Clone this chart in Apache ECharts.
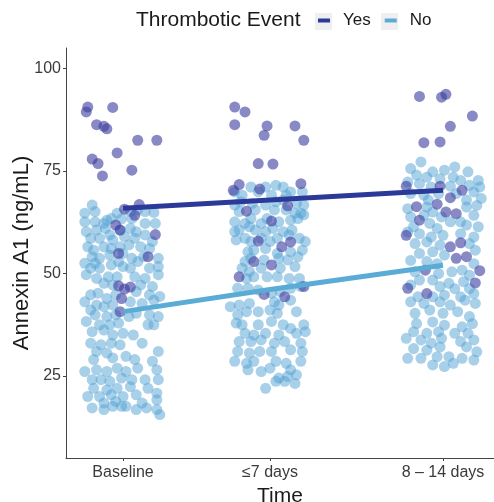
<!DOCTYPE html>
<html>
<head>
<meta charset="utf-8">
<script src="https://cdn.jsdelivr.net/npm/echarts@6/dist/echarts.min.js"></script>
<style>
  html, body { margin: 0; padding: 0; background: #fff; }
  #chart { width: 494px; height: 502px; }
</style>
</head>
<body>
<div id="chart"></div>
<script>
// Time points and where they sit on the x scale
const timeLabels = ['Baseline', '\u22647 days', '8 \u2013 14 days'];
const timePositions = [0, 1, 2.177];

// Group means (fitted trend) for each thrombotic-event group
const meanYes = [65.9, 67.9, 70.3];
const meanNo = [40.7, 46.1, 52.0];

// Individual measurements: [jitter offset, Annexin A1 ng/mL]
const yesBaseline = [
  [-0.24, 90.6], [-0.25, 89.4], [-0.07, 90.5], [-0.18, 86.3], [-0.13, 85.9], [-0.11, 85.3],
  [0.10, 82.5], [0.23, 82.5], [-0.04, 79.4], [-0.21, 77.9], [-0.17, 76.8], [0.06, 75.2],
  [-0.14, 73.8], [0.11, 66.8], [0.01, 65.7], [0.08, 64.2], [-0.05, 61.8], [-0.02, 60.6],
  [0.22, 59.5], [-0.03, 54.9], [0.17, 54.1], [-0.03, 47.0], [0.01, 46.2], [0.05, 46.7],
  [-0.01, 43.9], [-0.02, 40.7]
];
const yesDay7 = [
  [-0.24, 90.6], [-0.17, 89.4], [-0.24, 86.3], [-0.02, 86.0], [0.17, 86.0], [-0.04, 83.7],
  [0.23, 82.5], [-0.08, 76.8], [0.02, 76.7], [-0.21, 71.7], [-0.25, 70.3], [-0.07, 70.6],
  [0.21, 71.9], [-0.16, 65.2], [0.12, 66.5], [0.01, 62.8], [-0.08, 57.9], [0.08, 56.5],
  [0.14, 57.7], [-0.11, 52.9], [0.01, 52.1], [-0.21, 49.2], [-0.04, 44.9], [0.10, 44.3],
  [0.23, 46.8]
];
const yesDay14 = [
  [-0.16, 93.2], [-0.01, 93.0], [0.02, 93.7], [0.20, 88.4], [0.05, 85.9], [-0.13, 81.9],
  [-0.02, 82.1], [-0.25, 71.3], [-0.02, 71.3], [0.13, 70.3], [0.05, 68.5], [-0.04, 66.9],
  [-0.18, 66.3], [0.02, 65.0], [0.09, 64.6], [-0.16, 63.0], [-0.25, 59.3], [0.12, 57.5],
  [0.05, 56.5], [0.09, 53.7], [0.16, 54.1], [-0.12, 50.8], [0.25, 50.7], [0.22, 47.7],
  [-0.24, 46.4], [-0.11, 45.1]
];

const noBaseline = [
  [-0.21, 66.7], [-0.26, 64.7], [-0.19, 65.1], [-0.04, 64.7], [0.05, 65.1], [0.10, 65.5],
  [0.15, 65.1], [0.21, 64.9], [-0.11, 63.0], [-0.26, 62.6], [-0.19, 62.6], [-0.13, 62.2],
  [-0.08, 63.4], [-0.01, 63.3], [0.06, 63.4], [0.15, 62.2], [0.22, 62.2], [-0.25, 60.2],
  [-0.18, 60.6], [-0.12, 61.0], [-0.09, 59.4], [-0.02, 60.6], [0.05, 61.0], [0.09, 60.2],
  [0.15, 59.4], [-0.22, 58.6], [-0.16, 58.6], [-0.07, 58.2], [0.01, 59.0], [0.08, 58.6],
  [0.20, 57.8], [-0.24, 56.5], [-0.20, 55.7], [-0.13, 56.5], [-0.08, 56.1], [-0.02, 56.5],
  [0.04, 57.0], [0.12, 56.5], [0.18, 56.1], [-0.21, 54.1], [-0.16, 53.7], [-0.09, 54.5],
  [0.00, 54.9], [0.06, 53.7], [0.14, 54.1], [0.24, 53.7], [-0.26, 52.5], [-0.19, 52.5],
  [-0.03, 52.9], [0.10, 52.9], [-0.22, 51.3], [-0.16, 51.3], [-0.08, 52.1], [0.00, 51.7],
  [0.05, 51.3], [0.18, 51.3], [0.24, 51.7], [-0.25, 49.7], [-0.18, 48.8], [-0.10, 49.2],
  [-0.04, 49.2], [0.08, 49.2], [0.15, 48.8], [0.24, 49.7], [-0.13, 47.6], [-0.07, 47.2],
  [0.12, 47.2], [0.20, 46.8], [-0.22, 44.8], [-0.17, 45.2], [-0.11, 43.9], [-0.05, 44.8],
  [0.09, 45.6], [0.18, 44.8], [0.25, 44.4], [-0.26, 43.1], [-0.18, 42.3], [-0.13, 41.9],
  [-0.07, 42.3], [0.05, 43.1], [0.13, 42.7], [0.21, 43.5], [-0.22, 41.1], [-0.19, 39.9],
  [-0.11, 39.5], [-0.05, 39.9], [0.04, 39.5], [0.09, 40.3], [0.18, 39.9], [0.24, 39.5],
  [-0.25, 38.3], [-0.16, 37.5], [-0.09, 37.5], [-0.03, 37.9], [0.17, 37.5], [0.21, 37.5],
  [-0.21, 35.8], [-0.13, 36.2], [-0.07, 35.0], [0.00, 35.4], [0.07, 35.0], [-0.22, 33.0],
  [-0.15, 32.6], [-0.08, 33.0], [-0.02, 32.6], [0.13, 33.0], [0.24, 31.0], [-0.18, 31.0],
  [-0.11, 30.6], [0.02, 29.8], [-0.20, 29.0], [-0.07, 29.4], [0.08, 29.0], [0.20, 28.6],
  [-0.26, 26.1], [-0.18, 26.5], [-0.11, 26.1], [-0.04, 26.9], [0.02, 26.1], [0.10, 26.9],
  [0.23, 26.5], [-0.21, 24.1], [-0.15, 24.1], [-0.09, 23.7], [-0.01, 24.5], [0.06, 24.1],
  [0.15, 24.1], [0.24, 24.1], [-0.20, 22.0], [-0.11, 21.6], [-0.04, 22.0], [0.05, 22.4],
  [0.17, 22.0], [-0.24, 20.0], [-0.16, 20.0], [-0.08, 20.4], [0.00, 20.0], [0.09, 20.4],
  [0.23, 20.8], [-0.13, 18.4], [-0.05, 18.8], [0.02, 17.6], [0.13, 18.4], [0.23, 19.2],
  [-0.21, 17.2], [-0.13, 16.8], [-0.07, 17.6], [-0.01, 17.6], [0.09, 16.8], [0.16, 17.2],
  [0.23, 16.8], [0.25, 15.6]
];
const noDay7 = [
  [-0.24, 69.9], [-0.19, 69.1], [-0.13, 71.1], [-0.08, 69.9], [-0.03, 71.1], [0.04, 71.5],
  [0.09, 71.1], [0.14, 69.9], [0.22, 69.9], [0.01, 69.1], [0.11, 69.1], [-0.24, 66.7],
  [-0.20, 67.5], [-0.12, 67.1], [-0.03, 66.7], [0.04, 67.5], [0.09, 67.9], [0.18, 67.1],
  [0.23, 66.7], [-0.21, 65.1], [-0.10, 65.5], [0.03, 65.5], [0.11, 65.5], [0.17, 64.7],
  [0.21, 64.7], [-0.24, 62.6], [-0.17, 62.2], [-0.13, 63.4], [-0.06, 62.2], [-0.02, 63.4],
  [0.06, 62.6], [0.14, 63.0], [0.19, 63.4], [0.23, 64.3], [-0.24, 60.2], [-0.21, 60.6],
  [-0.14, 61.4], [-0.10, 60.6], [-0.03, 60.2], [0.02, 61.0], [0.09, 60.2], [0.15, 60.6],
  [-0.23, 58.2], [-0.17, 58.6], [-0.13, 57.8], [-0.06, 58.6], [0.00, 57.8], [0.05, 58.6],
  [0.13, 59.4], [0.20, 58.6], [0.24, 57.8], [-0.15, 55.3], [-0.11, 55.7], [-0.03, 56.1],
  [0.05, 54.9], [0.14, 55.3], [0.22, 55.7], [-0.17, 52.9], [-0.13, 53.7], [-0.04, 53.3],
  [0.06, 53.7], [0.12, 53.3], [0.19, 54.1], [-0.19, 51.3], [-0.14, 50.5], [-0.06, 51.3],
  [0.07, 51.3], [0.17, 51.7], [-0.16, 48.8], [-0.11, 49.2], [-0.02, 49.2], [0.05, 49.2],
  [0.13, 48.8], [0.20, 48.8], [-0.22, 46.4], [-0.15, 46.4], [-0.08, 46.0], [0.01, 45.2],
  [0.07, 45.6], [0.14, 46.4], [0.21, 46.8], [-0.27, 41.9], [-0.21, 42.3], [-0.14, 42.7],
  [0.03, 43.1], [0.06, 42.3], [0.14, 43.5], [-0.22, 39.9], [-0.16, 40.7], [-0.08, 40.7],
  [0.00, 41.1], [0.05, 40.3], [0.18, 40.7], [-0.23, 37.9], [-0.19, 37.5], [-0.08, 37.5],
  [0.01, 38.3], [0.09, 37.5], [0.14, 36.6], [0.23, 37.5], [-0.17, 35.4], [-0.11, 35.0],
  [-0.03, 35.4], [0.06, 35.0], [0.18, 35.4], [0.24, 35.8], [-0.21, 33.4], [-0.13, 33.4],
  [-0.06, 33.8], [0.03, 33.0], [0.10, 33.4], [0.21, 33.0], [-0.22, 31.0], [-0.14, 30.6],
  [-0.07, 31.0], [0.01, 31.0], [0.14, 31.4], [0.22, 31.0], [-0.24, 28.6], [-0.16, 28.1],
  [-0.11, 28.6], [0.04, 28.6], [0.11, 28.1], [0.21, 28.6], [-0.15, 26.5], [-0.06, 26.1],
  [0.00, 26.9], [0.14, 26.5], [0.06, 24.5], [0.12, 24.9], [0.18, 25.3], [0.04, 23.7],
  [0.10, 23.7], [0.17, 23.2], [-0.03, 22.0]
];
const noDay14 = [
  [-0.15, 77.2], [-0.22, 75.6], [-0.07, 74.8], [0.01, 75.2], [0.08, 76.0], [0.17, 74.8],
  [-0.18, 74.0], [-0.11, 73.5], [0.07, 73.5], [0.24, 72.7], [0.12, 72.7], [-0.02, 73.1],
  [-0.24, 72.3], [-0.16, 71.9], [-0.08, 71.1], [0.05, 71.3], [0.18, 71.5], [0.25, 71.1],
  [-0.22, 69.5], [-0.13, 69.1], [-0.03, 69.5], [0.09, 69.5], [0.21, 69.9], [0.26, 68.3],
  [-0.10, 67.9], [0.16, 67.9], [-0.24, 65.8], [-0.11, 66.2], [-0.07, 65.0], [0.16, 66.2],
  [0.23, 66.6], [-0.22, 63.8], [-0.13, 64.2], [-0.01, 63.8], [0.05, 62.6], [0.21, 64.2],
  [0.12, 62.6], [-0.20, 61.4], [-0.09, 62.2], [-0.04, 61.0], [0.16, 61.8], [0.24, 61.4],
  [-0.24, 60.1], [-0.16, 59.7], [-0.08, 58.9], [0.00, 59.3], [0.12, 59.7], [0.21, 58.9],
  [-0.19, 57.3], [-0.11, 57.7], [-0.02, 56.9], [0.18, 57.3], [-0.16, 54.9], [-0.07, 55.3],
  [0.01, 54.5], [0.22, 55.7], [-0.22, 53.2], [-0.11, 52.9], [-0.04, 52.4], [0.21, 52.4],
  [-0.19, 50.4], [-0.03, 50.0], [0.06, 50.4], [0.13, 50.8], [0.18, 49.6], [-0.16, 48.4],
  [-0.07, 48.4], [0.04, 47.6], [0.14, 48.0], [-0.22, 47.2], [-0.02, 46.8], [0.08, 46.3],
  [0.18, 46.3], [-0.17, 44.3], [-0.07, 44.3], [0.01, 44.7], [0.12, 44.3], [0.21, 45.1],
  [-0.22, 43.1], [-0.13, 42.7], [-0.02, 43.1], [0.05, 42.3], [0.15, 43.5], [0.22, 42.7],
  [-0.19, 40.3], [-0.09, 41.1], [0.00, 40.3], [0.10, 40.7], [0.18, 39.5], [-0.18, 37.8],
  [-0.07, 38.2], [0.01, 37.4], [0.13, 37.0], [0.20, 37.8], [-0.20, 35.8], [-0.11, 35.4],
  [-0.03, 35.8], [0.08, 35.4], [0.17, 35.4], [-0.25, 34.2], [-0.15, 33.8], [-0.08, 33.0],
  [-0.01, 34.2], [0.12, 33.4], [0.21, 33.8], [-0.20, 31.7], [-0.11, 31.3], [-0.02, 32.1],
  [0.16, 32.1], [0.23, 30.9], [-0.24, 29.3], [-0.15, 29.3], [-0.04, 29.7], [0.04, 29.7],
  [0.13, 29.3], [0.21, 28.9], [-0.07, 27.7], [0.01, 27.3], [0.07, 28.1]
];

// Place each measurement at its time point plus its jitter offset
function place(groups) {
  const out = [];
  groups.forEach((pts, i) => {
    pts.forEach(([off, v]) => out.push([timePositions[i] + off, v]));
  });
  return out;
}
const yesPoints = place([yesBaseline, yesDay7, yesDay14]);
const noPoints = place([noBaseline, noDay7, noDay14]);

const yesLineColor = '#2b3a98';
const noLineColor = '#5aacd6';
const fontFamily = '"Liberation Sans", Arial, sans-serif';

const chart = echarts.init(document.getElementById('chart'), null, { renderer: 'canvas' });

chart.setOption({
  animation: false,
  backgroundColor: '#ffffff',
  textStyle: { fontFamily },
  title: {
    text: 'Thrombotic Event',
    left: 136,
    top: 10,
    padding: 0,
    textStyle: { fontFamily, fontSize: 21, fontWeight: 'normal', color: '#1a1a1a' }
  },
  graphic: [
    { type: 'rect', z: 0, left: 315, top: 13, shape: { width: 17, height: 17 }, style: { fill: '#efeff1' } },
    { type: 'rect', z: 0, left: 381, top: 13, shape: { width: 17, height: 17 }, style: { fill: '#efeff1' } }
  ],
  legend: {
    left: 318,
    top: 12,
    padding: 0,
    itemWidth: 12,
    itemHeight: 4,
    itemGap: 14,
    icon: 'rect',
    selectedMode: false,
    textStyle: { fontFamily, fontSize: 17, color: '#1a1a1a', padding: [0, 0, 0, 8] },
    data: [
      { name: 'Yes', itemStyle: { color: yesLineColor, opacity: 1 } },
      { name: 'No', itemStyle: { color: noLineColor, opacity: 1 } }
    ]
  },
  grid: { left: 66, right: 0, top: 48, bottom: 44, outerBoundsMode: 'none', containLabel: false },
  xAxis: {
    type: 'value',
    min: -0.388,
    max: 2.524,
    name: 'Time',
    nameLocation: 'middle',
    nameMoveOverlap: false,
    nameGap: 28,
    nameTextStyle: { fontFamily, fontSize: 21, color: '#1a1a1a' },
    splitLine: { show: false },
    axisLine: { show: true, onZero: false, lineStyle: { color: '#444', width: 1 } },
    axisTick: { show: true, length: 3, customValues: timePositions, lineStyle: { color: '#444' } },
    axisLabel: {
      customValues: timePositions,
      margin: 7,
      fontSize: 16,
      color: '#3a3a3a',
      fontFamily,
      formatter: (v) => {
        let best = 0;
        timePositions.forEach((p, i) => { if (Math.abs(p - v) < Math.abs(timePositions[best] - v)) best = i; });
        return timeLabels[best];
      }
    }
  },
  yAxis: {
    type: 'value',
    min: 5,
    max: 105,
    name: 'Annexin A1 (ng/mL)',
    nameLocation: 'middle',
    nameMoveOverlap: false,
    nameGap: 33,
    nameTextStyle: { fontFamily, fontSize: 22, color: '#1a1a1a' },
    splitLine: { show: false },
    axisLine: { show: true, onZero: false, lineStyle: { color: '#444', width: 1 } },
    axisTick: { show: true, length: 3, customValues: [25, 50, 75, 100], lineStyle: { color: '#444' } },
    axisLabel: { customValues: [25, 50, 75, 100], margin: 5, fontSize: 16, color: '#3a3a3a', fontFamily }
  },
  series: [
    {
      name: 'No',
      type: 'scatter',
      data: noPoints,
      symbolSize: 11,
      z: 2,
      itemStyle: { color: 'rgb(82,162,212)', opacity: 0.5 }
    },
    {
      name: 'Yes',
      type: 'scatter',
      data: yesPoints,
      symbolSize: 11,
      z: 3,
      itemStyle: { color: 'rgb(58,58,158)', opacity: 0.6 }
    },
    {
      name: 'Yes',
      type: 'line',
      data: timePositions.map((p, i) => [p, meanYes[i]]),
      symbol: 'none',
      z: 5,
      lineStyle: { color: yesLineColor, width: 5 },
      itemStyle: { color: yesLineColor }
    },
    {
      name: 'No',
      type: 'line',
      data: timePositions.map((p, i) => [p, meanNo[i]]),
      symbol: 'none',
      z: 5,
      lineStyle: { color: noLineColor, width: 5 },
      itemStyle: { color: noLineColor }
    }
  ]
});
</script>
</body>
</html>
